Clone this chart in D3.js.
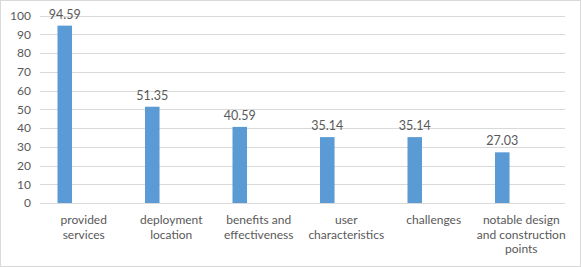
<!DOCTYPE html>
<html>
<head>
<meta charset="utf-8">
<script src="https://cdn.jsdelivr.net/npm/d3@7"></script>
<style>
  body { margin: 0; background: #fff; }
  svg { display: block; font-family: Lato, "Liberation Sans", Arial, sans-serif; }
</style>
</head>
<body>
<svg id="chart" width="581" height="267"></svg>
<script>
"use strict";

// chart data
const categories = [
  "provided services",
  "deployment location",
  "benefits and effectiveness",
  "user characteristics",
  "challenges",
  "notable design and construction points"
];
// how each category label wraps under the axis
const categoryLines = [
  ["provided", "services"],
  ["deployment", "location"],
  ["benefits and", "effectiveness"],
  ["user", "characteristics"],
  ["challenges"],
  ["notable design", "and construction", "points"]
];
const values = [94.59, 51.35, 40.59, 35.14, 35.14, 27.03];
const yTicks = [0, 10, 20, 30, 40, 50, 60, 70, 80, 90, 100];

let width = 581, height = 267;
let margin = {top: 15.5, right: 16, bottom: 64, left: 40};

let svg = d3.select("#chart");

// outer frame
svg.append("rect")
  .attr("x", 0.5).attr("y", 0.5)
  .attr("width", width - 1).attr("height", height - 1)
  .attr("fill", "#fff")
  .attr("stroke", "#d9d9d9");

let xScale = d3.scaleBand()
  .domain(categories)
  .range([margin.left, width - margin.right])
  .padding(0);

let yScale = d3.scaleLinear()
  .domain([0, 100])
  .range([height - margin.bottom, margin.top]);

// grid lines
svg.append("g")
  .selectAll("line")
  .data(yTicks)
  .join("line")
    .attr("x1", margin.left)
    .attr("x2", width - margin.right)
    .attr("y1", d => Math.round(yScale(d)) + 0.5)
    .attr("y2", d => Math.round(yScale(d)) + 0.5)
    .attr("stroke", "#d9d9d9")
    .attr("stroke-width", 1);

// y axis labels (no line, no ticks)
let yAxis = svg.append("g")
  .attr("transform", `translate(${margin.left},0)`)
  .call(d3.axisLeft(yScale).tickValues(yTicks).tickSize(0).tickPadding(9));
yAxis.select(".domain").remove();
yAxis.selectAll("text")
  .attr("fill", "#595959")
  .style("font-size", "12px")
  .style("font-family", "Lato, 'Liberation Sans', Arial, sans-serif");

// bars sit left of the category centre (clustered layout, one series)
let barOffset = xScale.bandwidth() * 0.2;
let barWidth = xScale.bandwidth() * 0.166;

svg.append("g")
  .selectAll("rect")
  .data(values)
  .join("rect")
    .attr("x", (d, i) => xScale(categories[i]) + barOffset)
    .attr("y", d => yScale(d))
    .attr("width", barWidth)
    .attr("height", d => yScale(0) - yScale(d))
    .attr("fill", "#5b9bd5");

// value labels
svg.append("g")
  .selectAll("text")
  .data(values)
  .join("text")
    .attr("x", (d, i) => xScale(categories[i]) + barOffset + barWidth / 2)
    .attr("y", d => yScale(d) - 7)
    .attr("text-anchor", "middle")
    .attr("fill", "#595959")
    .style("font-size", "12.5px")
    .text(d => d.toFixed(2));

// category labels
let catLabels = svg.append("g")
  .selectAll("text")
  .data(categories)
  .join("text")
    .attr("x", d => xScale(d) + xScale.bandwidth() / 2)
    .attr("y", height - margin.bottom + 21)
    .attr("text-anchor", "middle")
    .attr("fill", "#595959")
    .style("font-size", "12px");

catLabels.selectAll("tspan")
  .data((d, i) => categoryLines[i])
  .join("tspan")
    .attr("x", function() { return d3.select(this.parentNode).attr("x"); })
    .attr("dy", (d, i) => i === 0 ? 0 : 14.5)
    .text(d => d);
</script>
</body>
</html>
